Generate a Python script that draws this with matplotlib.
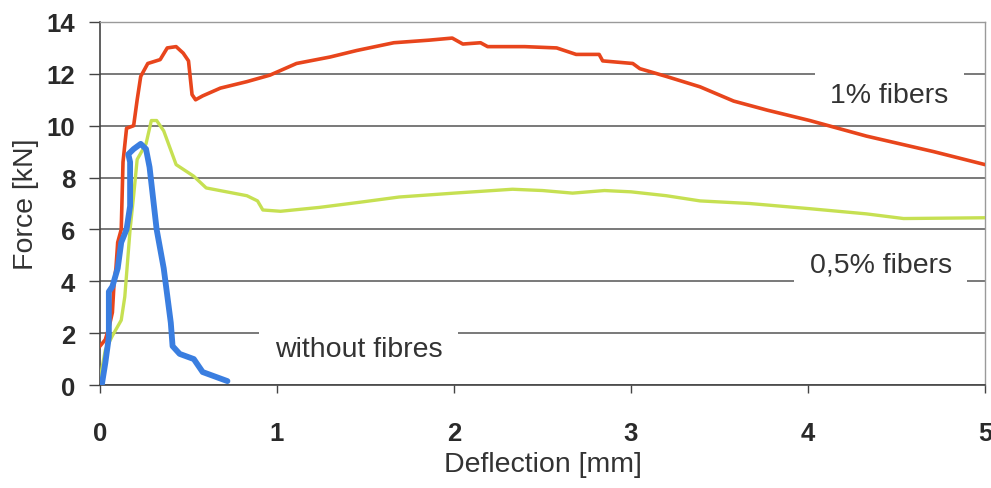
import matplotlib
matplotlib.use("Agg")
import matplotlib.pyplot as plt

plt.rcParams['font.family'] = ['Liberation Sans', 'DejaVu Sans']

# 1% fibers
x_1pct = [0.0, 0.03, 0.05, 0.07, 0.08, 0.09, 0.10, 0.12, 0.13, 0.15, 0.19, 0.21, 0.23, 0.27,
          0.34, 0.38, 0.43, 0.47, 0.50, 0.52, 0.54, 0.58, 0.68, 0.83, 0.96, 1.11, 1.3, 1.45,
          1.66, 1.86, 1.99, 2.05, 2.15, 2.19, 2.4, 2.58, 2.69, 2.82, 2.84, 3.01, 3.05, 3.2,
          3.39, 3.58, 3.77, 4.01, 4.33, 4.71, 5.0]
y_1pct = [1.5, 1.75, 2.2, 2.8, 4.0, 4.5, 5.5, 6.0, 8.6, 9.9, 10.0, 11.0, 11.9, 12.4,
          12.55, 13.0, 13.05, 12.8, 12.5, 11.2, 11.0, 11.15, 11.45, 11.7, 11.95, 12.4, 12.65, 12.9,
          13.2, 13.3, 13.38, 13.15, 13.2, 13.05, 13.05, 13.0, 12.75, 12.75, 12.5, 12.4, 12.2, 11.9,
          11.5, 10.95, 10.6, 10.2, 9.6, 9.0, 8.5]

# 0,5% fibers
x_05pct = [0.0, 0.01, 0.03, 0.07, 0.12, 0.14, 0.17, 0.19, 0.21, 0.26, 0.29, 0.32, 0.36, 0.43,
           0.53, 0.6, 0.83, 0.89, 0.92, 1.02, 1.24, 1.47, 1.69, 2.0, 2.33, 2.5, 2.67, 2.85, 3.0,
           3.2, 3.39, 3.67, 4.01, 4.33, 4.54, 5.0]
y_05pct = [0.0, 0.6, 1.35, 1.9, 2.5, 3.4, 6.0, 7.3, 8.7, 9.3, 10.2, 10.2, 9.8, 8.5,
           8.05, 7.6, 7.3, 7.1, 6.75, 6.7, 6.85, 7.05, 7.25, 7.4, 7.55, 7.5, 7.4, 7.5, 7.45,
           7.3, 7.1, 7.0, 6.8, 6.6, 6.42, 6.45]

# without fibres
x_plain = [0.01, 0.03, 0.05, 0.05, 0.07, 0.10, 0.12, 0.15, 0.17, 0.17, 0.16, 0.19, 0.23, 0.26,
           0.28, 0.32, 0.36, 0.40, 0.41, 0.45, 0.53, 0.58, 0.66, 0.72]
y_plain = [0.0, 0.85, 1.85, 3.6, 3.8, 4.5, 5.5, 6.0, 6.9, 8.6, 8.9, 9.1, 9.3, 9.1,
           8.4, 6.0, 4.5, 2.4, 1.5, 1.2, 1.0, 0.5, 0.3, 0.15]

x_ticks = [0, 1, 2, 3, 4, 5]
y_ticks = [0, 2, 4, 6, 8, 10, 12, 14]

fig = plt.figure(figsize=(9.91, 4.89), dpi=100)
ax = fig.add_axes([100/991, 1 - 386/489, 885/991, 363/489])

ax.plot(x_05pct, y_05pct, color='#C6E052', lw=2.4, zorder=4)
ax.plot(x_1pct, y_1pct, color='#E8451C', lw=2.6, zorder=5)
ax.plot(x_plain, y_plain, color='#3A7EE0', lw=4.2, zorder=6, solid_capstyle='round')

ax.set_xlim(0, 5)
ax.set_ylim(0, 14)
ax.set_xticks(x_ticks)
ax.set_yticks(y_ticks)
ax.yaxis.grid(True, color='#555555', lw=1.1, zorder=1)
ax.set_axisbelow(True)

for lab in ax.get_xticklabels() + ax.get_yticklabels():
    lab.set_fontweight('bold')
    lab.set_fontsize(18.5)
    lab.set_color('#2a2a2a')
ax.tick_params(axis='x', direction='out', length=6, width=1, color='#444444', pad=20)
ax.tick_params(axis='y', direction='out', length=8, width=1, color='#444444', pad=10)

for s in ['left', 'bottom']:
    ax.spines[s].set_color('#444444')
    ax.spines[s].set_linewidth(1.2)
for s in ['top', 'right']:
    ax.spines[s].set_color('#9a9a9a')
    ax.spines[s].set_linewidth(1.0)

ax.set_xlabel('Deflection [mm]', fontsize=20.5, color='#333333', labelpad=4)
ax.set_ylabel('Force [kN]', fontsize=20.5, color='#333333', labelpad=5)

box = dict(facecolor='white', edgecolor='none', pad=11)
ax.text(4.46, 11.2, '1% fibers', fontsize=20.5, color='#333333', ha='center', va='center',
        bbox=box, zorder=3)
ax.text(4.41, 4.65, '0,5% fibers', fontsize=20.5, color='#333333', ha='center', va='center',
        bbox=box, zorder=3)
ax.text(1.46, 1.38, 'without fibres', fontsize=20.5, color='#333333', ha='center', va='center',
        bbox=box, zorder=3)

fig.savefig('out.png', dpi=100)
